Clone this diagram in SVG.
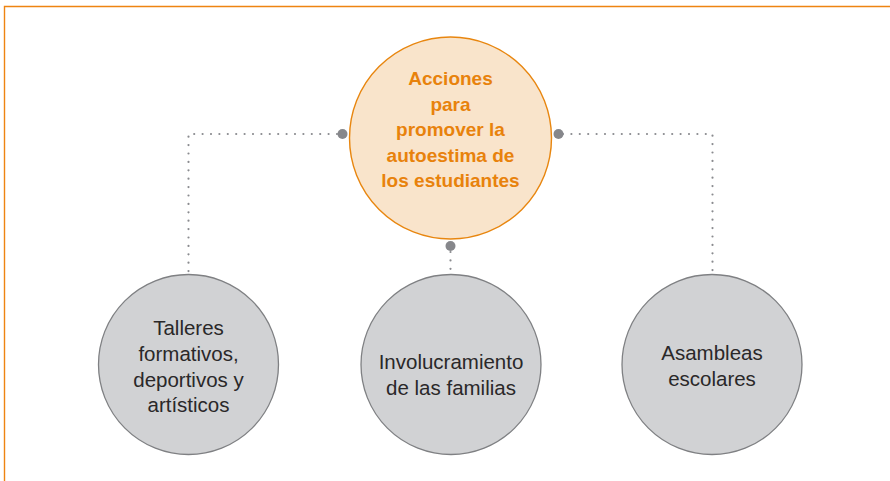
<svg xmlns="http://www.w3.org/2000/svg" width="890" height="481" viewBox="0 0 890 481">
<style>
.frame{fill:none;stroke:#EE8412;stroke-width:1.4}
.dot-line{fill:none;stroke:#8A8B8F;stroke-width:2.2;stroke-linecap:round;stroke-dasharray:0 8.4}
.knob{fill:#86878B}
.main{fill:#F9E4CB;stroke:#E8860F;stroke-width:1.4}
.sub{fill:#D1D2D4;stroke:#7F8083;stroke-width:1.3}
.tmain{font-family:"Liberation Sans",Arial,sans-serif;font-weight:bold;font-size:19px;fill:#E8820C;text-anchor:middle}
.tsub{font-family:"Liberation Sans",Arial,sans-serif;font-size:20.5px;fill:#2A2829;text-anchor:middle}
</style>
<rect width="890" height="481" fill="#FFFFFF"/>
<path class="frame" d="M4.5,481 V6.5 H890"/>
<g id="connectors">
<path class="dot-line" d="M337,134 H188.5 V273"/>
<path class="dot-line" d="M563,134 H712.5 V273"/>
<path class="dot-line" d="M450.5,252 V274"/>
</g>
<g id="main-node">
<circle class="main" cx="450.5" cy="138" r="101"/>
<text class="tmain"><tspan x="450.5" y="85">Acciones</tspan><tspan x="450.5" y="110.5">para</tspan><tspan x="450.5" y="136">promover la</tspan><tspan x="450.5" y="161.5">autoestima de</tspan><tspan x="450.5" y="187">los estudiantes</tspan></text>
</g>
<g id="knobs">
<circle class="knob" cx="342.5" cy="134" r="5"/>
<circle class="knob" cx="558.5" cy="134" r="5"/>
<circle class="knob" cx="450.5" cy="246" r="5"/>
</g>
<g id="node-talleres">
<circle class="sub" cx="188.5" cy="364.5" r="90"/>
<text class="tsub"><tspan x="188.5" y="335">Talleres</tspan><tspan x="188.5" y="361">formativos,</tspan><tspan x="188.5" y="387">deportivos y</tspan><tspan x="188.5" y="412">artísticos</tspan></text>
</g>
<g id="node-familias">
<circle class="sub" cx="451" cy="364.5" r="90"/>
<text class="tsub"><tspan x="451" y="369">Involucramiento</tspan><tspan x="451" y="395">de las familias</tspan></text>
</g>
<g id="node-asambleas">
<circle class="sub" cx="712" cy="364.5" r="90"/>
<text class="tsub"><tspan x="712" y="360">Asambleas</tspan><tspan x="712" y="386">escolares</tspan></text>
</g>
</svg>
